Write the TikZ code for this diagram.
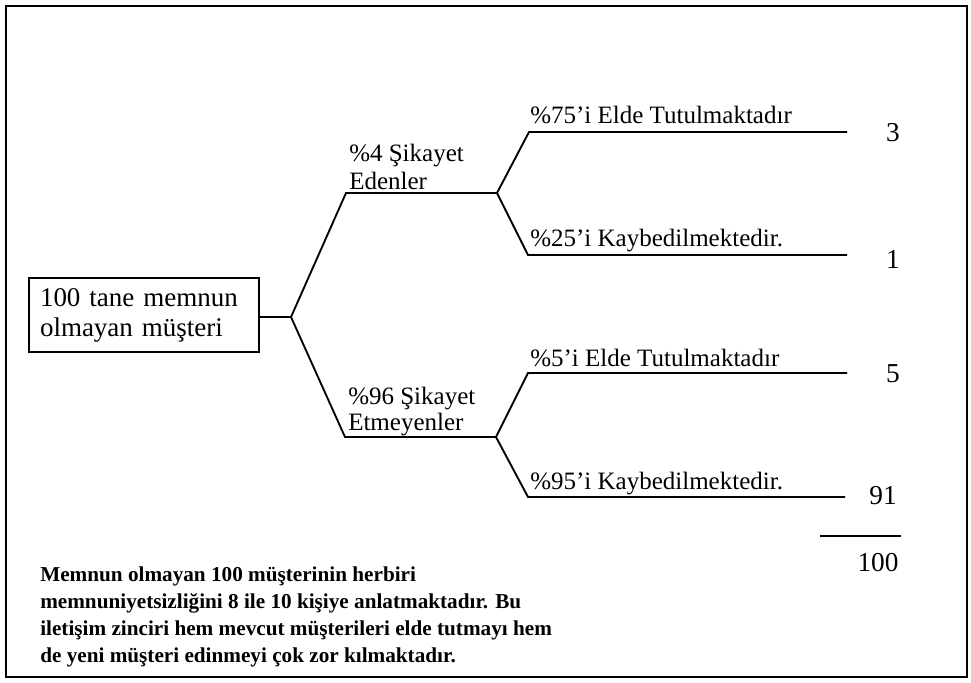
\documentclass[tikz,border=0pt]{standalone}
\usepackage{fontspec}
\setmainfont{Liberation Serif}
\begin{document}
\begin{tikzpicture}[x=0.75pt,y=-0.75pt,
  ln/.style={line width=1.4pt},
  lbl/.style={anchor=base west,inner sep=0pt,font=\fontsize{18.75pt}{21pt}\selectfont},
  num/.style={anchor=base,inner sep=0pt,font=\fontsize{20.5pt}{22pt}\selectfont},
  rootbox/.style={draw,line width=1.5pt,align=left,inner xsep=8.25pt,inner ysep=0pt,
     text width=156pt,minimum height=56pt,font=\fontsize{20.25pt}{22.5pt}\selectfont},
  note/.style={anchor=base west,inner sep=0pt,align=left,font=\fontsize{15.9pt}{20.25pt}\selectfont\bfseries}]
\useasboundingbox (0,0) rectangle (971,682);
\draw[line width=1.6pt] (6,6) rectangle (967,677);

\node[rootbox] (root) at (144,315) {100 tane memnun\\olmayan müşteri};

\coordinate (f1) at (291,317);
\coordinate (a1) at (346,193);
\coordinate (a2) at (497,193);
\coordinate (b1) at (345,437);
\coordinate (b2) at (496,437);

\coordinate (a11) at (529,132);
\coordinate (a12) at (847,132);
\coordinate (a21) at (528,255);
\coordinate (a22) at (847,255);
\coordinate (b11) at (528,373);
\coordinate (b12) at (847,373);
\coordinate (b21) at (528,497);
\coordinate (b22) at (845,497);

\draw[ln] (root.east |- f1) -- (f1);
\draw[ln] (f1) -- (a1) -- (a2);
\draw[ln] (f1) -- (b1) -- (b2);
\draw[ln] (a2) -- (a11) -- (a12);
\draw[ln] (a2) -- (a21) -- (a22);
\draw[ln] (b2) -- (b11) -- (b12);
\draw[ln] (b2) -- (b21) -- (b22);

\node[lbl] (la1) at (349,161) {\%4 Şikayet};
\node[lbl] (la2) at (349,189) {Edenler};
\node[lbl] (lb1) at (348,404) {\%96 Şikayet};
\node[lbl] (lb2) at (348,430) {Etmeyenler};

\node[lbl] (l11) at (530,123) {\%75’i Elde Tutulmaktadır};
\node[lbl] (l12) at (530,246) {\%25’i Kaybedilmektedir.};
\node[lbl] (l21) at (530,366) {\%5’i Elde Tutulmaktadır};
\node[lbl] (l22) at (530,489) {\%95’i Kaybedilmektedir.};

\node[num] (n1) at (893,141) {3};
\node[num] (n2) at (893,268) {1};
\node[num] (n3) at (893,382) {5};
\node[num] (n4) at (883,504) {91};
\coordinate (s1) at (820,536);
\coordinate (s2) at (901,536);
\draw[ln] (s1) -- (s2);
\node[num] (tot) at (878,571) {100};

\node[note] (txt) at (40,662) {Memnun olmayan 100 müşterinin herbiri\\memnuniyetsizliğini 8 ile 10 kişiye anlatmaktadır. Bu\\iletişim zinciri hem mevcut müşterileri elde tutmayı hem\\de yeni müşteri edinmeyi çok zor kılmaktadır.};
\end{tikzpicture}
\end{document}
